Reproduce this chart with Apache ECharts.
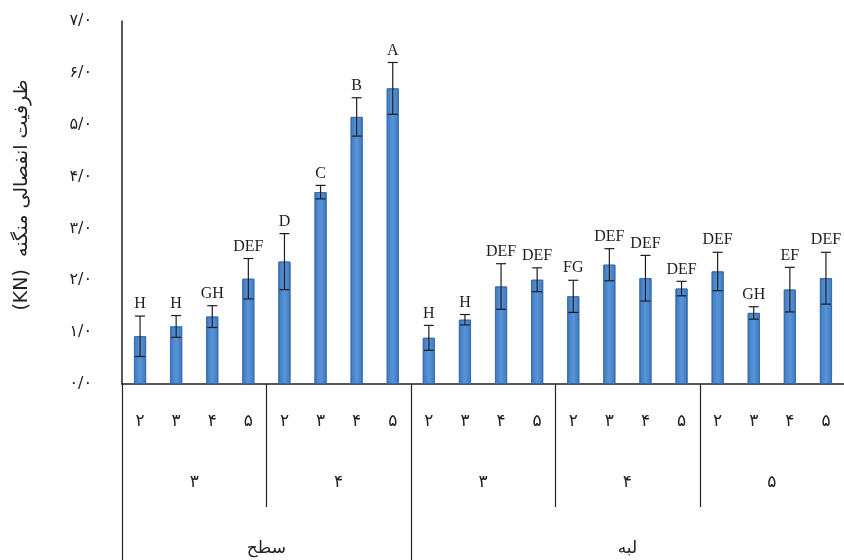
<!DOCTYPE html>
<html>
<head>
<meta charset="utf-8">
<script src="https://cdn.jsdelivr.net/npm/echarts@6/dist/echarts.min.js"></script>
<style>
  html, body { margin: 0; padding: 0; background: #fff; }
  #chart { width: 844px; height: 560px; }
</style>
</head>
<body>
<div id="chart"></div>
<script>
// Innermost category row (one label per bar)
const sizeLabels = ['۲','۳','۴','۵','۲','۳','۴','۵','۲','۳','۴','۵','۲','۳','۴','۵','۲','۳','۴','۵'];
// Mean separation strength (KN) and standard error for each bar
const meanValues = [0.92, 1.11, 1.30, 2.03, 2.36, 3.70, 5.15, 5.70,
                    0.89, 1.24, 1.88, 2.01, 1.69, 2.30, 2.04, 1.84, 2.17, 1.37, 1.82, 2.04];
const errValues  = [0.39, 0.21, 0.21, 0.39, 0.54, 0.13, 0.37, 0.50,
                    0.24, 0.10, 0.44, 0.23, 0.31, 0.31, 0.44, 0.14, 0.37, 0.12, 0.43, 0.50];
// Duncan grouping letters
const groupLetters = ['H','H','GH','DEF','D','C','B','A',
                      'H','H','DEF','DEF','FG','DEF','DEF','DEF','DEF','GH','EF','DEF'];
// Middle and outer category rows
const middleLabels = ['۳','۴','۳','۴','۵'];
const middleSpans  = [4, 4, 4, 4, 4];
const outerLabels  = ['سطح','لبه'];
const outerSpans   = [8, 12];
// Y axis ticks
const yTicks = [0, 1, 2, 3, 4, 5, 6, 7];
// unit placed first so the left-to-right canvas run puts it at the far end of the rotated title
const yTitle = '(KN)  ظرفیت انفصالی منگنه';

const faDigits = '۰۱۲۳۴۵۶۷۸۹';
const toFa = n => String(n).split('').map(c => (c >= '0' && c <= '9') ? faDigits[+c] : c).join('');

const FA_FONT = '"DejaVu Sans", sans-serif';
const LATIN_SERIF = '"Liberation Serif", "DejaVu Serif", serif';

const chart = echarts.init(document.getElementById('chart'), null, { renderer: 'canvas' });

const option = {
  animation: false,
  backgroundColor: '#ffffff',
  grid: { left: 122, right: 0, top: 21, bottom: 176, containLabel: false },
  xAxis: {
    type: 'category',
    data: sizeLabels.map((_, i) => i),
    axisLine: { show: true, lineStyle: { color: '#222', width: 1.5 } },
    axisTick: { show: false },
    axisLabel: {
      show: true,
      interval: 0,
      margin: 29,
      fontFamily: FA_FONT,
      fontSize: 17,
      color: '#222',
      formatter: v => sizeLabels[v]
    },
    splitLine: { show: false }
  },
  yAxis: {
    type: 'value',
    min: yTicks[0],
    max: yTicks[yTicks.length - 1],
    interval: 1,
    axisLine: { show: true, lineStyle: { color: '#222', width: 1.5 } },
    axisTick: { show: false },
    splitLine: { show: false },
    axisLabel: {
      margin: 30,
      fontFamily: FA_FONT,
      fontSize: 16,
      color: '#222',
      formatter: v => toFa(v) + '/' + toFa(0)
    }
  },
  series: [
    {
      type: 'bar',
      data: meanValues,
      barWidth: 12,
      itemStyle: {
        color: new echarts.graphic.LinearGradient(0, 0, 1, 0, [
          { offset: 0, color: '#3f79c0' },
          { offset: 0.5, color: '#5894d8' },
          { offset: 1, color: '#3f79c0' }
        ]),
        borderColor: '#3468a8',
        borderWidth: 0.8
      },
      z: 2
    },
    {
      // error bars with the grouping letter above each cap
      type: 'custom',
      data: meanValues.map((m, i) => [i, m, errValues[i], groupLetters[i]]),
      z: 3,
      renderItem: function (params, api) {
        const i = api.value(0);
        const m = api.value(1);
        const e = api.value(2);
        const top = api.coord([i, m + e]);
        const bot = api.coord([i, m - e]);
        const half = 5;
        const style = { stroke: '#1e1e1e', lineWidth: 1.2 };
        return {
          type: 'group',
          children: [
            { type: 'line', shape: { x1: top[0], y1: top[1], x2: bot[0], y2: bot[1] }, style },
            { type: 'line', shape: { x1: top[0] - half, y1: top[1], x2: top[0] + half, y2: top[1] }, style },
            { type: 'line', shape: { x1: bot[0] - half, y1: bot[1], x2: bot[0] + half, y2: bot[1] }, style },
            {
              type: 'text',
              style: {
                x: top[0], y: top[1] - 4,
                text: groupLetters[i],
                fill: '#1e1e1e',
                font: '16px ' + LATIN_SERIF,
                align: 'center',
                verticalAlign: 'bottom'
              }
            }
          ]
        };
      }
    }
  ]
};

chart.setOption(option);

// Hierarchical category rows beneath the x axis
function drawCategoryRows() {
  const n = sizeLabels.length;
  const c0 = chart.convertToPixel({ xAxisIndex: 0 }, 0);
  const c1 = chart.convertToPixel({ xAxisIndex: 0 }, 1);
  const step = c1 - c0;
  const edge = k => c0 - step / 2 + k * step;
  const axisY = chart.convertToPixel({ yAxisIndex: 0 }, 0);
  const midEnd = axisY + 123;
  const outerEnd = 560;
  const els = [];
  const lineStyle = { stroke: '#222', lineWidth: 1.2 };

  let k = 0;
  const outerEdges = [0];
  outerSpans.forEach(s => { k += s; outerEdges.push(k); });
  k = 0;
  const midEdges = [0];
  middleSpans.forEach(s => { k += s; midEdges.push(k); });

  // middle boundaries stop above the outer row
  midEdges.forEach(e => {
    if (e === 0 || e === n) return;
    if (outerEdges.indexOf(e) >= 0) return;
    const x = Math.round(edge(e)) + 0.5;
    els.push({ type: 'line', shape: { x1: x, y1: axisY, x2: x, y2: midEnd }, style: lineStyle, silent: true });
  });
  // outer boundaries run to the bottom
  outerEdges.forEach(e => {
    if (e === n) return;
    const x = Math.round(edge(e)) + 0.5;
    els.push({ type: 'line', shape: { x1: x, y1: axisY, x2: x, y2: outerEnd }, style: lineStyle, silent: true });
  });

  k = 0;
  middleLabels.forEach((lab, j) => {
    const cx = (edge(k) + edge(k + middleSpans[j])) / 2;
    k += middleSpans[j];
    els.push({
      type: 'text', silent: true,
      style: { x: cx, y: axisY + 99, text: lab, fill: '#222', font: '17px ' + FA_FONT, align: 'center', verticalAlign: 'middle' }
    });
  });
  k = 0;
  outerLabels.forEach((lab, j) => {
    const cx = (edge(k) + edge(k + outerSpans[j])) / 2;
    k += outerSpans[j];
    els.push({
      type: 'text', silent: true,
      style: { x: cx, y: axisY + 165, text: lab, fill: '#222', font: '17px ' + FA_FONT, align: 'center', verticalAlign: 'middle' }
    });
  });

  // y axis title, rotated
  els.push({
    type: 'text', silent: true,
    x: 22, y: 195, rotation: Math.PI / 2,
    style: { x: 0, y: 0, text: yTitle, fill: '#222', font: '19px ' + FA_FONT, align: 'center', verticalAlign: 'middle' }
  });

  chart.setOption({ graphic: { elements: els } });
}
drawCategoryRows();
</script>
</body>
</html>
